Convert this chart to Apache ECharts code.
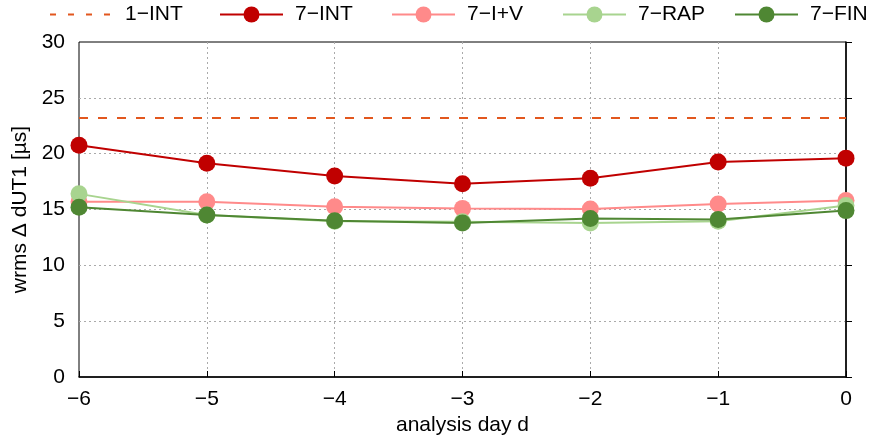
<!DOCTYPE html>
<html><head><meta charset="utf-8">
<script src="https://cdn.jsdelivr.net/npm/echarts@6/dist/echarts.min.js"></script>
<style>html,body{margin:0;padding:0;background:#fff}#c{width:870px;height:438px}</style>
</head><body><div id="c"></div>
<script>
const days = [-6, -5, -4, -3, -2, -1, 0];
const oneInt = [23.2, 23.2, 23.2, 23.2, 23.2, 23.2, 23.2];
const sevenInt = [20.75, 19.15, 18.0, 17.3, 17.8, 19.25, 19.6];
const sevenIV = [15.7, 15.7, 15.25, 15.1, 15.05, 15.5, 15.8];
const sevenRap = [16.4, 14.5, 13.95, 13.9, 13.8, 13.95, 15.35];
const sevenFin = [15.2, 14.5, 14.0, 13.8, 14.2, 14.1, 14.9];
const yTicks = [0, 5, 10, 15, 20, 25, 30];
const seriesNames = ['1\u2212INT', '7\u2212INT', '7\u2212I+V', '7\u2212RAP', '7\u2212FIN'];

const FONT = 'Liberation Sans';
const FS = 21;
const colors = ['#e2571e', '#c00000', '#ff8a8a', '#a8d48f', '#4f8733'];
const pair = arr => days.map((d, i) => [d, arr[i]]);
const allData = [oneInt, sevenInt, sevenIV, sevenRap, sevenFin];
const legendLeft = [49, 219, 391, 562, 734];

const chart = echarts.init(document.getElementById('c'), null, {renderer: 'canvas'});
const series = allData.map((arr, k) => ({
  name: seriesNames[k],
  type: 'line',
  data: pair(arr),
  symbol: k === 0 ? 'none' : 'circle',
  showSymbol: k !== 0,
  symbolSize: 17,
  color: colors[k],
  lineStyle: {width: 2, color: colors[k], type: k === 0 ? [9, 10] : 'solid'},
  itemStyle: {color: colors[k]},
  emphasis: {disabled: true},
  animation: false,
  z: 2 + k
}));
chart.setOption({
  animation: false,
  textStyle: {fontFamily: FONT},
  legend: seriesNames.map((n, k) => {
    const lg = {
      data: [n], left: legendLeft[k], top: 4, padding: 0,
      itemWidth: 63, itemHeight: 20, itemGap: 0,
      textStyle: {fontFamily: FONT, fontSize: FS, color: '#000', padding: [0, 0, 0, 7]},
      selectedMode: false
    };
    if (k === 0) {
      lg.itemStyle = {opacity: 0};
      lg.lineStyle = {type: [6, 12], width: 2, color: colors[0]};
    }
    return lg;
  }),
  grid: {left: 79, right: 24, top: 42, bottom: 61, show: true, borderColor: '#000', borderWidth: 1,
    containLabel: false, outerBoundsMode: 'none'},
  xAxis: {
    type: 'value', min: -6, max: 0, interval: 1,
    name: 'analysis day d', nameLocation: 'middle', nameGap: 26,
    nameTextStyle: {fontFamily: FONT, fontSize: FS, color: '#000'},
    axisLine: {show: true, lineStyle: {color: '#000', width: 1.5}},
    axisTick: {show: true, inside: true, length: 6, lineStyle: {color: '#000'}},
    axisLabel: {fontFamily: FONT, fontSize: FS, color: '#000', margin: 12,
      formatter: v => String(v).replace('-', '\u2212')},
    splitLine: {show: true, showMinLine: false, showMaxLine: false,
      lineStyle: {color: '#aaa', type: [2, 3], width: 1}}
  },
  yAxis: {
    type: 'value', min: 0, max: 30, interval: 5,
    name: 'wrms \u0394 dUT1 [\u00b5s]', nameLocation: 'middle', nameGap: 44, nameRotate: 90,
    nameTextStyle: {fontFamily: FONT, fontSize: FS, color: '#000'},
    axisLine: {show: true, lineStyle: {color: '#000', width: 1.5}},
    axisTick: {show: true, inside: true, length: 6, lineStyle: {color: '#000'}},
    axisLabel: {fontFamily: FONT, fontSize: FS, color: '#000', margin: 14,
      formatter: v => yTicks.includes(v) ? String(v) : ''},
    splitLine: {show: true, showMinLine: false, showMaxLine: false,
      lineStyle: {color: '#aaa', type: [2, 3], width: 1}}
  },
  series: series
});
</script></body></html>
